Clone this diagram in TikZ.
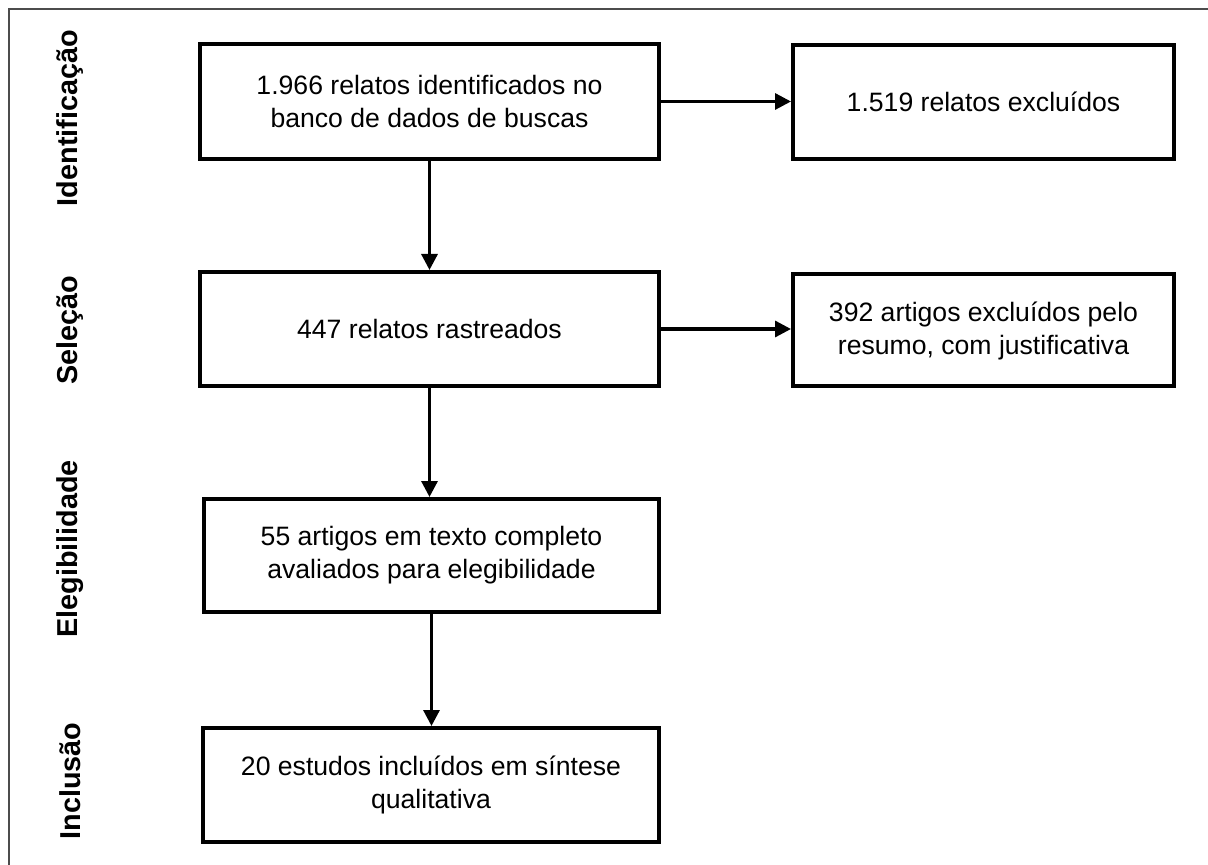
\documentclass[tikz,border=0pt]{standalone}
\usepackage{fontspec}
\setmainfont{Liberation Sans}
\usetikzlibrary{arrows.meta}
\newcommand{\Unit}{0.5pt}
\tikzset{Box/.style={
    inner sep=0pt,
    line width=2pt,
    draw=black,
    align=center,
    font={\fontsize{13.3pt}{16.5pt}\selectfont}
    },
    Phase/.style={
    rotate=90,
    inner sep=0pt,
    font={\fontsize{14.4pt}{17pt}\selectfont\bfseries}
    },
    Flow/.style={line width=1.6pt, -{Triangle[length=8pt,width=8pt]}}
}

\begin{document}
\begin{tikzpicture}[x=\Unit,y=-\Unit]
\useasboundingbox (0,0) rectangle (1208,865);
% frame
\draw[line width=0.8pt, black!70] (1208,9) -- (9,9) -- (9,865);
% phases
\node [Phase] (phId) at (70,118) {Identificação};
\node [Phase] (phSel) at (70,330) {Seleção};
\node [Phase] (phEleg) at (70,549) {Elegibilidade};
\node [Phase] (phIncl) at (70,781) {Inclusão};
% boxes
\node [Box, minimum width=459*\Unit, minimum height=115*\Unit] (ident) at (429.5,101.5) {1.966 relatos identificados no\\banco de dados de buscas};
\node [Box, minimum width=381*\Unit, minimum height=114*\Unit] (exclA) at (983.5,102) {1.519 relatos excluídos};
\node [Box, minimum width=459*\Unit, minimum height=114*\Unit] (selec) at (429.5,329) {447 relatos rastreados};
\node [Box, minimum width=381*\Unit, minimum height=112*\Unit] (exclB) at (983.5,330.5) {392 artigos excluídos pelo\\resumo, com justificativa};
\node [Box, minimum width=455*\Unit, minimum height=113*\Unit] (elegib) at (431.5,555.5) {55 artigos em texto completo\\avaliados para elegibilidade};
\node [Box, minimum width=456*\Unit, minimum height=114*\Unit] (inclus) at (431,785) {20 estudos incluídos em síntese\\qualitativa};
% arrows
\draw [Flow] (ident.south) -- (selec.north);
\draw [Flow] (selec.south) -- (selec.south |- elegib.north);
\draw [Flow] (elegib.south) -- (elegib.south |- inclus.north);
\draw [Flow] (ident.east) -- (ident.east -| exclA.west);
\draw [Flow] (selec.east) -- (selec.east -| exclB.west);
\end{tikzpicture}
\end{document}
